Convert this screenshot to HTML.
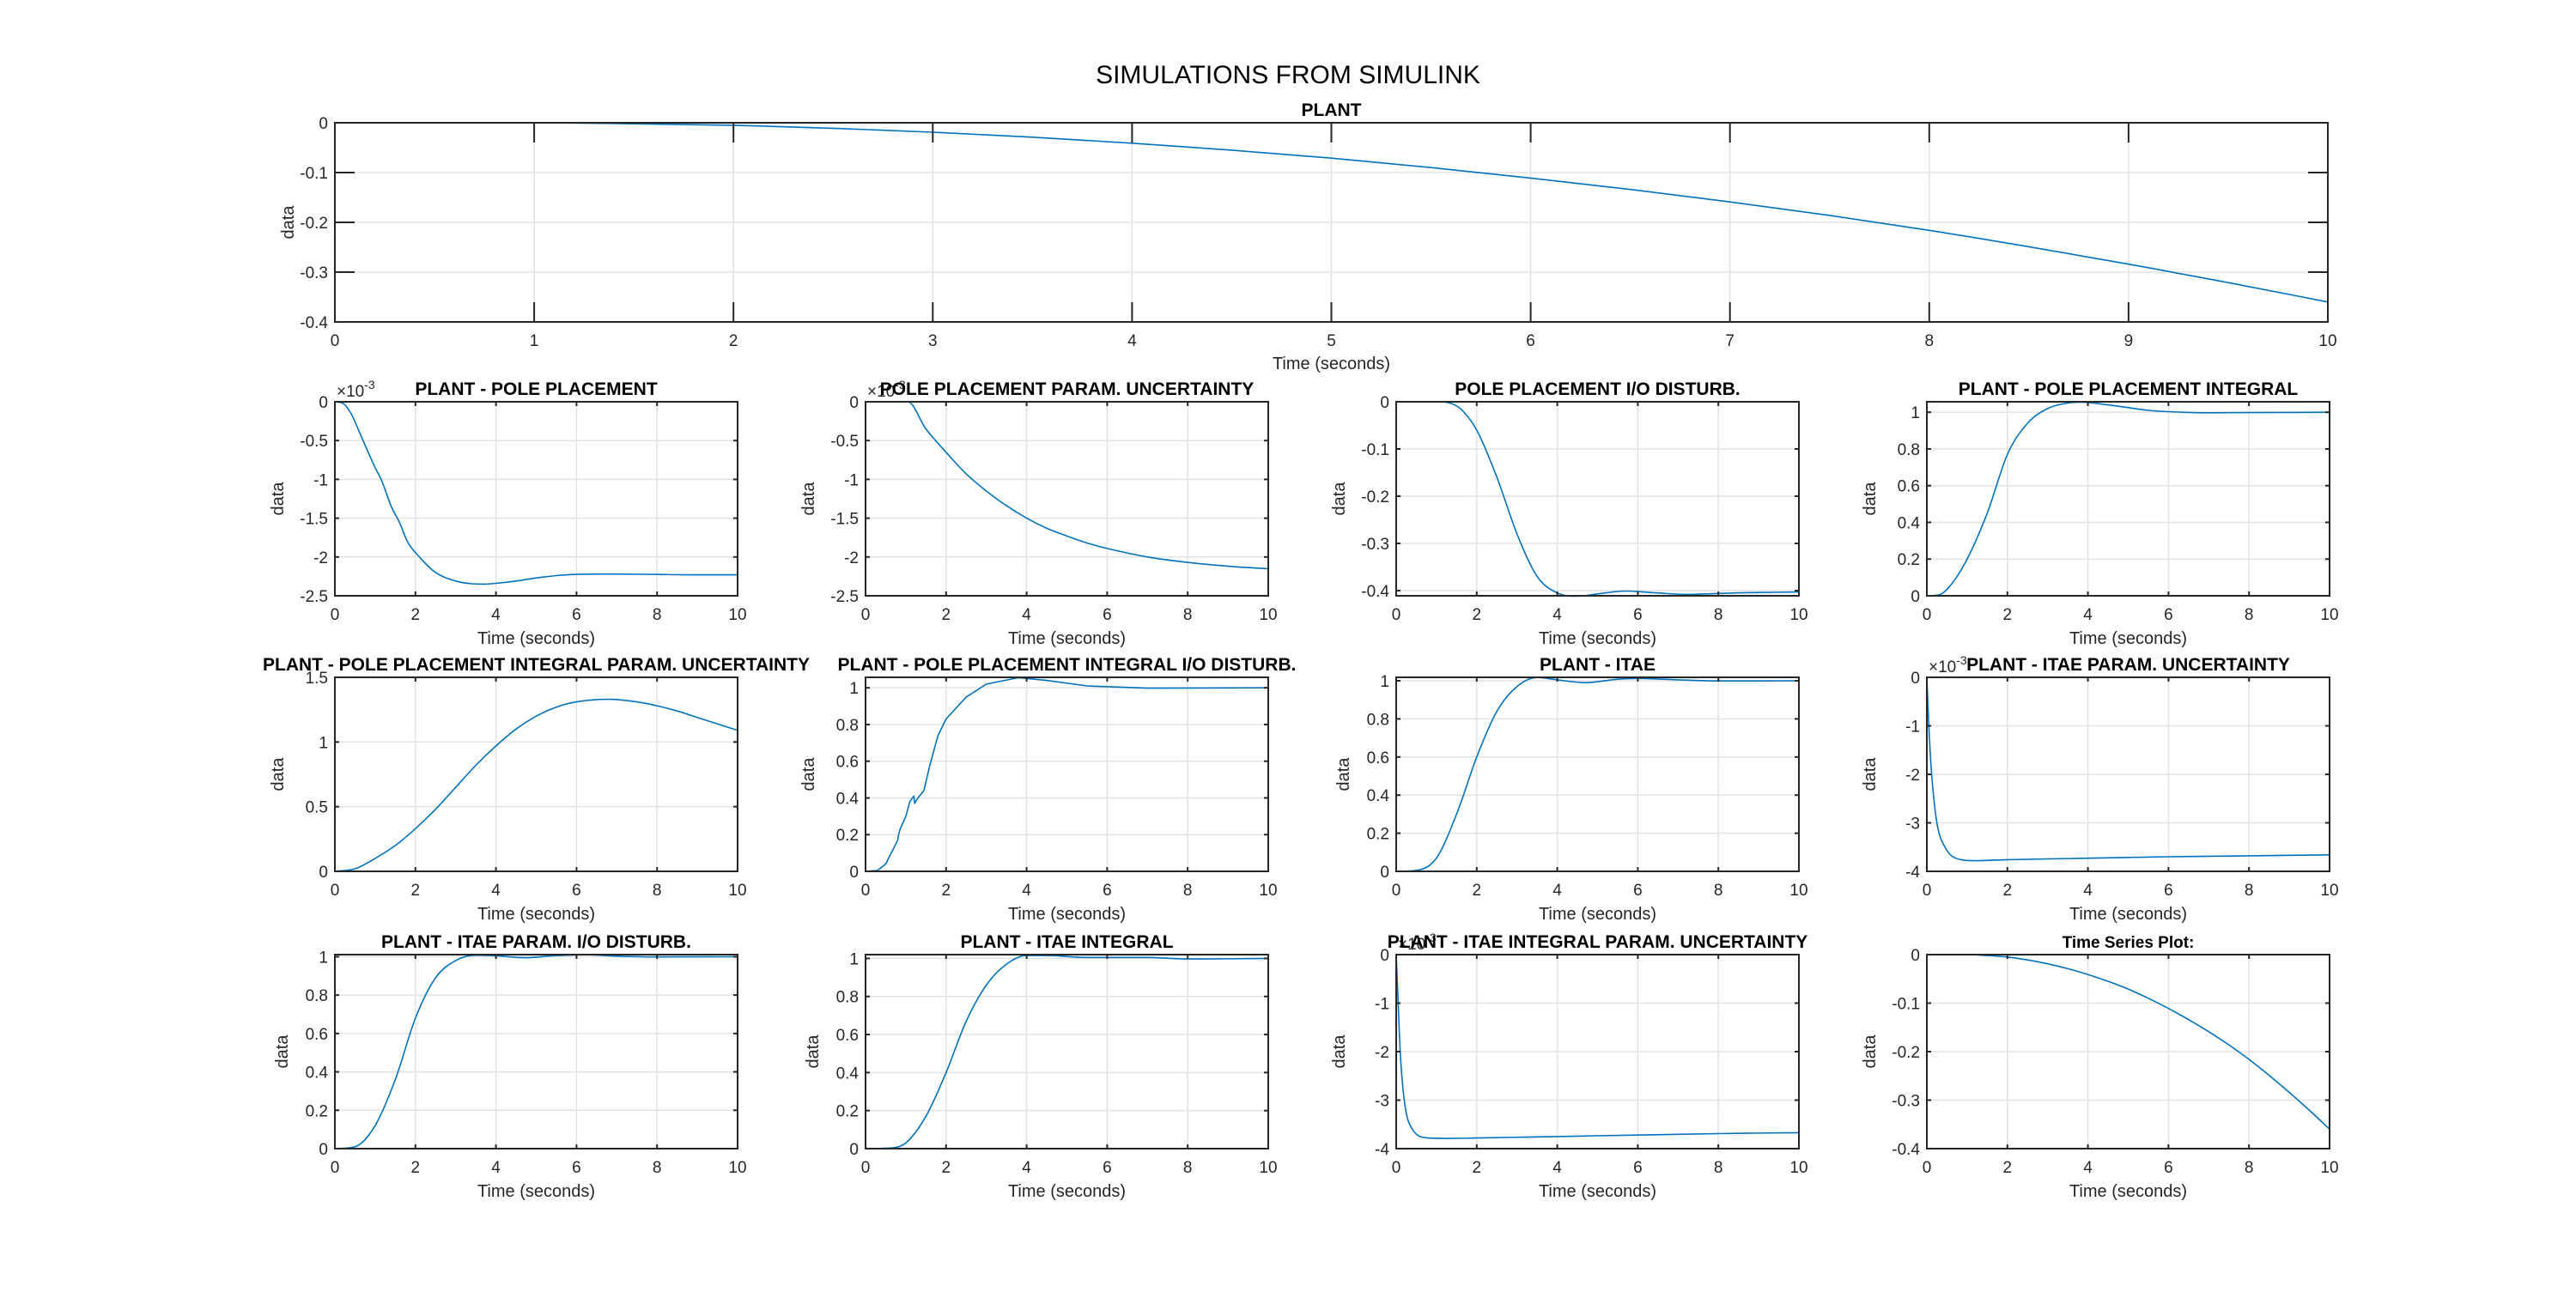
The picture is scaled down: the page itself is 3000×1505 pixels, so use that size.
<!DOCTYPE html>
<html><head><meta charset="utf-8"><style>
html,body{margin:0;padding:0;background:#fff;}
svg{display:block;font-family:"Liberation Sans",Arial,sans-serif;}
</style></head><body>
<svg id="fig" width="3000" height="1505" viewBox="0 0 3000 1505" xmlns="http://www.w3.org/2000/svg">
<rect width="3000" height="1505" fill="#fff"/>
<text x="1500" y="97" font-size="30" text-anchor="middle" fill="#000">SIMULATIONS FROM SIMULINK</text>
</svg>
<script>
// ---- data arrays (time, values) ----
const t_plant = [0,1,1.5,2,2.5,3,3.5,4,4.5,5,5.5,6,6.5,7,7.5,8,8.5,9,9.5,10];
const v_plant = [0,0,-0.002,-0.005,-0.011,-0.019,-0.029,-0.041,-0.055,-0.071,-0.09,-0.111,-0.134,-0.159,-0.186,-0.216,-0.249,-0.284,-0.321,-0.36];

const t_pp = [0,0.2,0.4,0.7,1,1.15,1.4,1.6,1.8,2.1,2.5,3,3.4,3.7,4,4.5,5,5.5,6,6.5,7,8,9,10];
const v_pp = [0,-0.02,-0.15,-0.5,-0.85,-1.0,-1.35,-1.55,-1.8,-2.0,-2.2,-2.31,-2.345,-2.35,-2.34,-2.31,-2.27,-2.24,-2.225,-2.22,-2.22,-2.225,-2.23,-2.23];

const t_ppu = [0,1,1.05,1.5,2,2.5,3,3.5,4,4.5,5,5.5,6,7,8,9,10];
const v_ppu = [0,0,0,-0.35,-0.65,-0.93,-1.15,-1.34,-1.5,-1.63,-1.73,-1.82,-1.89,-2.0,-2.07,-2.12,-2.15];

const t_ppio = [0,1,1.3,1.6,2,2.5,3,3.5,4,4.5,5,5.7,6.5,7.2,8,9,10];
const v_ppio = [0,0,-0.002,-0.015,-0.06,-0.16,-0.28,-0.37,-0.405,-0.412,-0.407,-0.401,-0.405,-0.408,-0.406,-0.404,-0.403];

const t_ppi = [0,0.3,0.6,1,1.5,2,2.5,3,3.5,3.8,4.5,5,5.5,6,7,8,10];
const v_ppi = [0,0.005,0.06,0.2,0.45,0.77,0.94,1.02,1.05,1.055,1.04,1.025,1.01,1.003,0.997,0.998,1.0];

const t_ppiu = [0,0.5,1,1.5,2,2.5,3,3.5,4,4.5,5,5.5,6,6.8,7.5,8,8.5,9,9.5,10];
const v_ppiu = [0,0.02,0.1,0.2,0.33,0.48,0.65,0.82,0.97,1.1,1.2,1.27,1.31,1.33,1.31,1.28,1.24,1.19,1.14,1.09];

const t_ppiio = [0,0.3,0.5,0.8,0.82,0.86,1,1.1,1.2,1.22,1.3,1.45,1.6,1.8,2,2.5,3,3.8,4.5,5.5,7,10];
const v_ppiio = [0,0.005,0.04,0.17,0.2,0.23,0.3,0.38,0.41,0.37,0.4,0.44,0.58,0.74,0.83,0.95,1.02,1.055,1.04,1.01,0.998,1.0];

const t_itae = [0,0.5,1,1.5,2,2.5,3,3.5,4,4.7,5.5,6,7,8,10];
const v_itae = [0,0.005,0.07,0.3,0.6,0.84,0.97,1.017,1.005,0.99,1.008,1.012,1.005,0.999,1.0];

const t_itaeu = [0,0.05,0.12,0.25,0.45,0.8,1.2,2,4,6,8,10];
const v_itaeu = [0,-1,-2,-3,-3.5,-3.75,-3.78,-3.76,-3.73,-3.7,-3.68,-3.66];

const t_itaeio = [0,0.5,1,1.5,2,2.5,3,3.5,4,4.7,5.5,6.3,7,8,10];
const v_itaeio = [0,0.01,0.12,0.36,0.68,0.89,0.98,1.008,1.005,0.995,1.006,1.01,1.003,0.999,1.0];

const t_itaei = [0,0.7,1,1.5,2,2.5,3,3.5,4,4.5,5.5,7,8,10];
const v_itaei = [0,0.005,0.03,0.17,0.4,0.67,0.86,0.97,1.015,1.015,1.005,1.005,0.997,1.0];

const t_itaeiu = [0,0.05,0.1,0.2,0.4,0.8,1.2,2,4,6,8,10];
const v_itaeiu = [0,-1,-2,-3,-3.6,-3.78,-3.79,-3.78,-3.75,-3.72,-3.69,-3.67];

const t_ts = [0,1,1.5,2,2.5,3,3.5,4,4.5,5,5.5,6,6.5,7,7.5,8,8.5,9,9.5,10];
const v_ts = [0,0,-0.002,-0.005,-0.011,-0.019,-0.029,-0.041,-0.055,-0.071,-0.09,-0.111,-0.134,-0.159,-0.186,-0.216,-0.249,-0.284,-0.321,-0.36];

// tick label arrays
const xt_big = [0,1,2,3,4,5,6,7,8,9,10];
const xt_small = [0,2,4,6,8,10];
const yt_04 = [-0.4,-0.3,-0.2,-0.1,0];
const yt_25 = [-2.5,-2,-1.5,-1,-0.5,0];
const yt_01 = [0,0.2,0.4,0.6,0.8,1];
const yt_15 = [0,0.5,1,1.5];
const yt_4 = [-4,-3,-2,-1,0];

const NS='http://www.w3.org/2000/svg';
const svg=document.getElementById('fig');
function mk(tag,attrs,parent){const e=document.createElementNS(NS,tag);for(const k in attrs)e.setAttribute(k,attrs[k]);(parent||svg).appendChild(e);return e;}

const cols=[390,1008,1626,2244], W=469, H=226;
const rows=[468,789,1112];
const plots=[
 {name:'plant',title:'PLANT',x:390,y:143,w:2321,h:232,ylim:[-0.4,0],yt:yt_04,xt:xt_big,t:t_plant,v:v_plant,big:true},
 {name:'pole-placement',title:'PLANT - POLE PLACEMENT',c:0,r:0,ylim:[-2.5,0],yt:yt_25,t:t_pp,v:v_pp,exp:true},
 {name:'pole-placement-param-uncertainty',title:'POLE PLACEMENT PARAM. UNCERTAINTY',c:1,r:0,ylim:[-2.5,0],yt:yt_25,t:t_ppu,v:v_ppu,exp:true},
 {name:'pole-placement-io-disturb',title:'POLE PLACEMENT I/O DISTURB.',c:2,r:0,ylim:[-0.411,0],yt:yt_04,t:t_ppio,v:v_ppio},
 {name:'pole-placement-integral',title:'PLANT - POLE PLACEMENT INTEGRAL',c:3,r:0,ylim:[0,1.057],yt:yt_01,t:t_ppi,v:v_ppi},
 {name:'pp-integral-param-uncertainty',title:'PLANT - POLE PLACEMENT INTEGRAL PARAM. UNCERTAINTY',c:0,r:1,ylim:[0,1.5],yt:yt_15,t:t_ppiu,v:v_ppiu},
 {name:'pp-integral-io-disturb',title:'PLANT - POLE PLACEMENT INTEGRAL I/O DISTURB.',c:1,r:1,ylim:[0,1.057],yt:yt_01,t:t_ppiio,v:v_ppiio,sharp:true},
 {name:'itae',title:'PLANT - ITAE',c:2,r:1,ylim:[0,1.018],yt:yt_01,t:t_itae,v:v_itae},
 {name:'itae-param-uncertainty',title:'PLANT - ITAE PARAM. UNCERTAINTY',c:3,r:1,ylim:[-4,0],yt:yt_4,t:t_itaeu,v:v_itaeu,exp:true},
 {name:'itae-param-io-disturb',title:'PLANT - ITAE PARAM. I/O DISTURB.',c:0,r:2,ylim:[0,1.011],yt:yt_01,t:t_itaeio,v:v_itaeio},
 {name:'itae-integral',title:'PLANT - ITAE INTEGRAL',c:1,r:2,ylim:[0,1.02],yt:yt_01,t:t_itaei,v:v_itaei},
 {name:'itae-integral-param-uncertainty',title:'PLANT - ITAE INTEGRAL PARAM. UNCERTAINTY',c:2,r:2,ylim:[-4,0],yt:yt_4,t:t_itaeiu,v:v_itaeiu,exp:true},
 {name:'time-series-plot',title:'Time Series Plot:',c:3,r:2,ylim:[-0.4,0],yt:yt_04,t:t_ts,v:v_ts,small:true}
];

function fmt(n){return (Math.round(n*1000)/1000).toString();}

// monotone cubic (Fritsch-Carlson) path
function smoothPath(xs,ys){
 const n=xs.length; if(n<3) return xs.map((x,i)=>(i?'L':'M')+x+','+ys[i]).join(' ');
 const d=[],m=new Array(n);
 for(let i=0;i<n-1;i++){const dx=xs[i+1]-xs[i]; d.push(dx===0?0:(ys[i+1]-ys[i])/dx);}
 m[0]=d[0]; m[n-1]=d[n-2];
 for(let i=1;i<n-1;i++){ m[i]=(d[i-1]*d[i]<=0)?0:(d[i-1]+d[i])/2; }
 for(let i=0;i<n-1;i++){ if(d[i]===0){m[i]=0;m[i+1]=0;continue;}
  const a=m[i]/d[i],b=m[i+1]/d[i],s=a*a+b*b; if(s>9){const t=3/Math.sqrt(s);m[i]=t*a*d[i];m[i+1]=t*b*d[i];} }
 let p='M'+xs[0].toFixed(1)+','+ys[0].toFixed(1);
 for(let i=0;i<n-1;i++){const h=(xs[i+1]-xs[i])/3;
  p+=' C'+(xs[i]+h).toFixed(1)+','+(ys[i]+m[i]*h).toFixed(1)+' '+(xs[i+1]-h).toFixed(1)+','+(ys[i+1]-m[i+1]*h).toFixed(1)+' '+xs[i+1].toFixed(1)+','+ys[i+1].toFixed(1);}
 return p;
}

plots.forEach(p=>{
 const x0=p.big?p.x:cols[p.c], y0=p.big?p.y:rows[p.r], w=p.big?p.w:W, h=p.big?p.h:H;
 const xt=p.xt||xt_small;
 const g=mk('g',{});
 
 
 const sx=t=>x0+t/10*w;
 const sy=v=>y0+h-(v-p.ylim[0])/(p.ylim[1]-p.ylim[0])*h;
 const tl=p.big?23:5;
 xt.forEach(t=>{const gl=mk('line',{x1:sx(t),x2:sx(t),y1:y0,y2:y0+h,stroke:'#e3e3e3','stroke-width':1.5},g);
  });
 p.yt.forEach(v=>{const gl=mk('line',{x1:x0,x2:x0+w,y1:sy(v),y2:sy(v),stroke:'#e3e3e3','stroke-width':1.5},g);
  });
 const xs=p.t.map(sx), ys=p.v.map(sy);
 const d=p.sharp?xs.map((x,i)=>(i?'L':'M')+x.toFixed(1)+','+ys[i].toFixed(1)).join(' '):smoothPath(xs,ys);
 const path=mk('path',{d:d,fill:'none',stroke:'#0072BD','stroke-width':1.6,'stroke-linejoin':'round'},g);
 
 
 const box=mk('rect',{x:x0,y:y0,width:w,height:h,fill:'none',stroke:'#262626','stroke-width':2},g);
 
 xt.forEach(t=>{
  mk('line',{x1:sx(t),x2:sx(t),y1:y0+h,y2:y0+h-tl,stroke:'#262626','stroke-width':2},g);
  mk('line',{x1:sx(t),x2:sx(t),y1:y0,y2:y0+tl,stroke:'#262626','stroke-width':2},g);
  const lb=mk('text',{x:sx(t),y:y0+h+28,'font-size':19,'text-anchor':'middle',fill:'#262626'},g);lb.textContent=t;
  
 });
 p.yt.forEach(v=>{
  mk('line',{x1:x0,x2:x0+tl,y1:sy(v),y2:sy(v),stroke:'#262626','stroke-width':2},g);
  mk('line',{x1:x0+w,x2:x0+w-tl,y1:sy(v),y2:sy(v),stroke:'#262626','stroke-width':2},g);
  const lb=mk('text',{x:x0-8,y:sy(v)+7,'font-size':19,'text-anchor':'end',fill:'#262626'},g);lb.textContent=fmt(v);
  
 });
 if(p.exp){const ex=mk('text',{x:x0+2,y:y0-6,'font-size':19,fill:'#262626'},g);
  ex.innerHTML='×10<tspan dy="-9" font-size="14">-3</tspan>';
  }
 const tt=mk('text',{x:x0+w/2,y:y0-8,'font-size':p.small?19:21,'font-weight':'bold','text-anchor':'middle',fill:'#000'},g);
 tt.textContent=p.title;
 
 const xl=mk('text',{x:x0+w/2,y:y0+h+(p.big?55:56),'font-size':20,'text-anchor':'middle',fill:'#262626'},g);
 xl.textContent='Time (seconds)';
 
 const ylx=x0-(p.big?48:(p.ylim[0]<-1||p.ylim[1]>1.05||p.yt===yt_04?60:55)), yly=y0+h/2;
 const yl=mk('text',{x:ylx,y:yly,'font-size':20,'text-anchor':'middle',fill:'#262626',transform:`rotate(-90 ${ylx} ${yly})`},g);
 yl.textContent='data';
 
});
</script>
</body></html>
